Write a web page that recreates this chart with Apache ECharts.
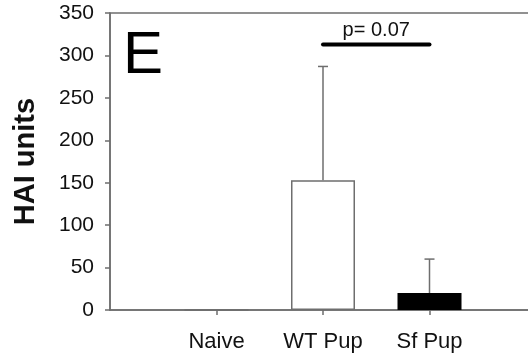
<!DOCTYPE html>
<html>
<head>
<meta charset="utf-8">
<script src="https://cdn.jsdelivr.net/npm/echarts@6/dist/echarts.min.js"></script>
<style>
  html, body { margin: 0; padding: 0; background: #fff; }
  #chart { width: 528px; height: 357px; }
</style>
</head>
<body>
<div id="chart"></div>
<script>
// Groups and their HAI titres (mean and upper SD)
const groups = ['Naive', 'WT Pup', 'Sf Pup'];
const meanHAI = [0, 153, 20];
const sdHAI = [0, 134, 40];
const yTicks = [0, 50, 100, 150, 200, 250, 300, 350];
const comparison = { from: 'WT Pup', to: 'Sf Pup', level: 313, label: 'p= 0.07' };
const panelLetter = 'E';

const FONT = '"Liberation Sans", Arial, Helvetica, sans-serif';
const AXIS_GREY = '#6e6e6e';

// padded category list so the groups sit at evenly spaced tick positions
const cats = [''].concat(groups, ['']);
const pad = v => [null].concat(v, [null]);
const fills = ['#ffffff', '#ffffff', '#000000'];

const barData = pad(meanHAI).map((v, i) => {
  if (v === null) return '-';
  const g = i - 1;
  return {
    value: v,
    itemStyle: {
      color: fills[g],
      borderColor: g === 2 ? '#000000' : AXIS_GREY,
      borderWidth: 1.5
    }
  };
});

const errData = groups.map((g, i) => [g, meanHAI[i], meanHAI[i] + sdHAI[i]])
  .filter((d, i) => sdHAI[i] > 0);

const chart = echarts.init(document.getElementById('chart'), null, { renderer: 'canvas' });

chart.setOption({
  animation: false,
  backgroundColor: '#ffffff',
  textStyle: { fontFamily: FONT },
  grid: {
    left: 110, top: 13, bottom: 47, right: -8,
    containLabel: false,
    outerBoundsMode: 'none',
    show: true, borderColor: AXIS_GREY, borderWidth: 1.5, backgroundColor: 'transparent'
  },
  xAxis: {
    type: 'category',
    data: cats,
    boundaryGap: false,
    axisLine: { lineStyle: { color: AXIS_GREY, width: 1.5 } },
    axisTick: {
      show: true, length: 5, inside: false,
      interval: (idx) => idx >= 1 && idx <= groups.length,
      lineStyle: { color: AXIS_GREY, width: 1.5 }
    },
    axisLabel: {
      interval: 0, margin: 21,
      fontSize: 22, color: '#111', fontFamily: FONT
    },
    splitLine: { show: false }
  },
  yAxis: {
    type: 'value',
    min: yTicks[0],
    max: yTicks[yTicks.length - 1],
    interval: yTicks[1] - yTicks[0],
    name: 'HAI units',
    nameLocation: 'middle',
    nameGap: 70,
    nameTextStyle: { fontSize: 29, fontWeight: 'bold', color: '#111', fontFamily: FONT },
    axisLine: { show: true, lineStyle: { color: AXIS_GREY, width: 1.5 } },
    axisTick: { show: true, length: 5, lineStyle: { color: AXIS_GREY, width: 1.5 } },
    axisLabel: { margin: 16, fontSize: 21, color: '#111', fontFamily: FONT },
    splitLine: { show: false }
  },
  series: [
    {
      type: 'bar',
      data: barData,
      barWidth: 64,
      z: 2
    },
    {
      // upper error whiskers with caps
      type: 'custom',
      z: 3,
      data: errData,
      renderItem: (params, api) => {
        const base = api.coord([api.value(0), api.value(1)]);
        const top = api.coord([api.value(0), api.value(2)]);
        const half = 5;
        const style = { stroke: AXIS_GREY, lineWidth: 1.5 };
        return {
          type: 'group',
          children: [
            { type: 'line', shape: { x1: base[0], y1: base[1], x2: top[0], y2: top[1] }, style },
            { type: 'line', shape: { x1: top[0] - half, y1: top[1], x2: top[0] + half, y2: top[1] }, style }
          ]
        };
      }
    },
    {
      // significance bracket between the two pup groups
      type: 'custom',
      z: 4,
      data: [[comparison.from, comparison.level]],
      renderItem: (params, api) => {
        const a = api.coord([comparison.from, comparison.level]);
        const b = api.coord([comparison.to, comparison.level]);
        return {
          type: 'group',
          children: [
            {
              type: 'line',
              shape: { x1: a[0], y1: a[1], x2: b[0], y2: b[1] },
              style: { stroke: '#000', lineWidth: 4, lineCap: 'round' }
            },
            {
              type: 'text',
              x: (a[0] + b[0]) / 2,
              y: a[1] - 4,
              style: {
                text: comparison.label,
                fontSize: 20, fontFamily: FONT, fill: '#111',
                align: 'center', verticalAlign: 'bottom'
              }
            }
          ]
        };
      }
    }
  ],
  graphic: [
    {
      type: 'text',
      left: 123, top: 26,
      style: { text: panelLetter, fontSize: 60, fontFamily: FONT, fill: '#000' }
    }
  ]
});
</script>
</body>
</html>
